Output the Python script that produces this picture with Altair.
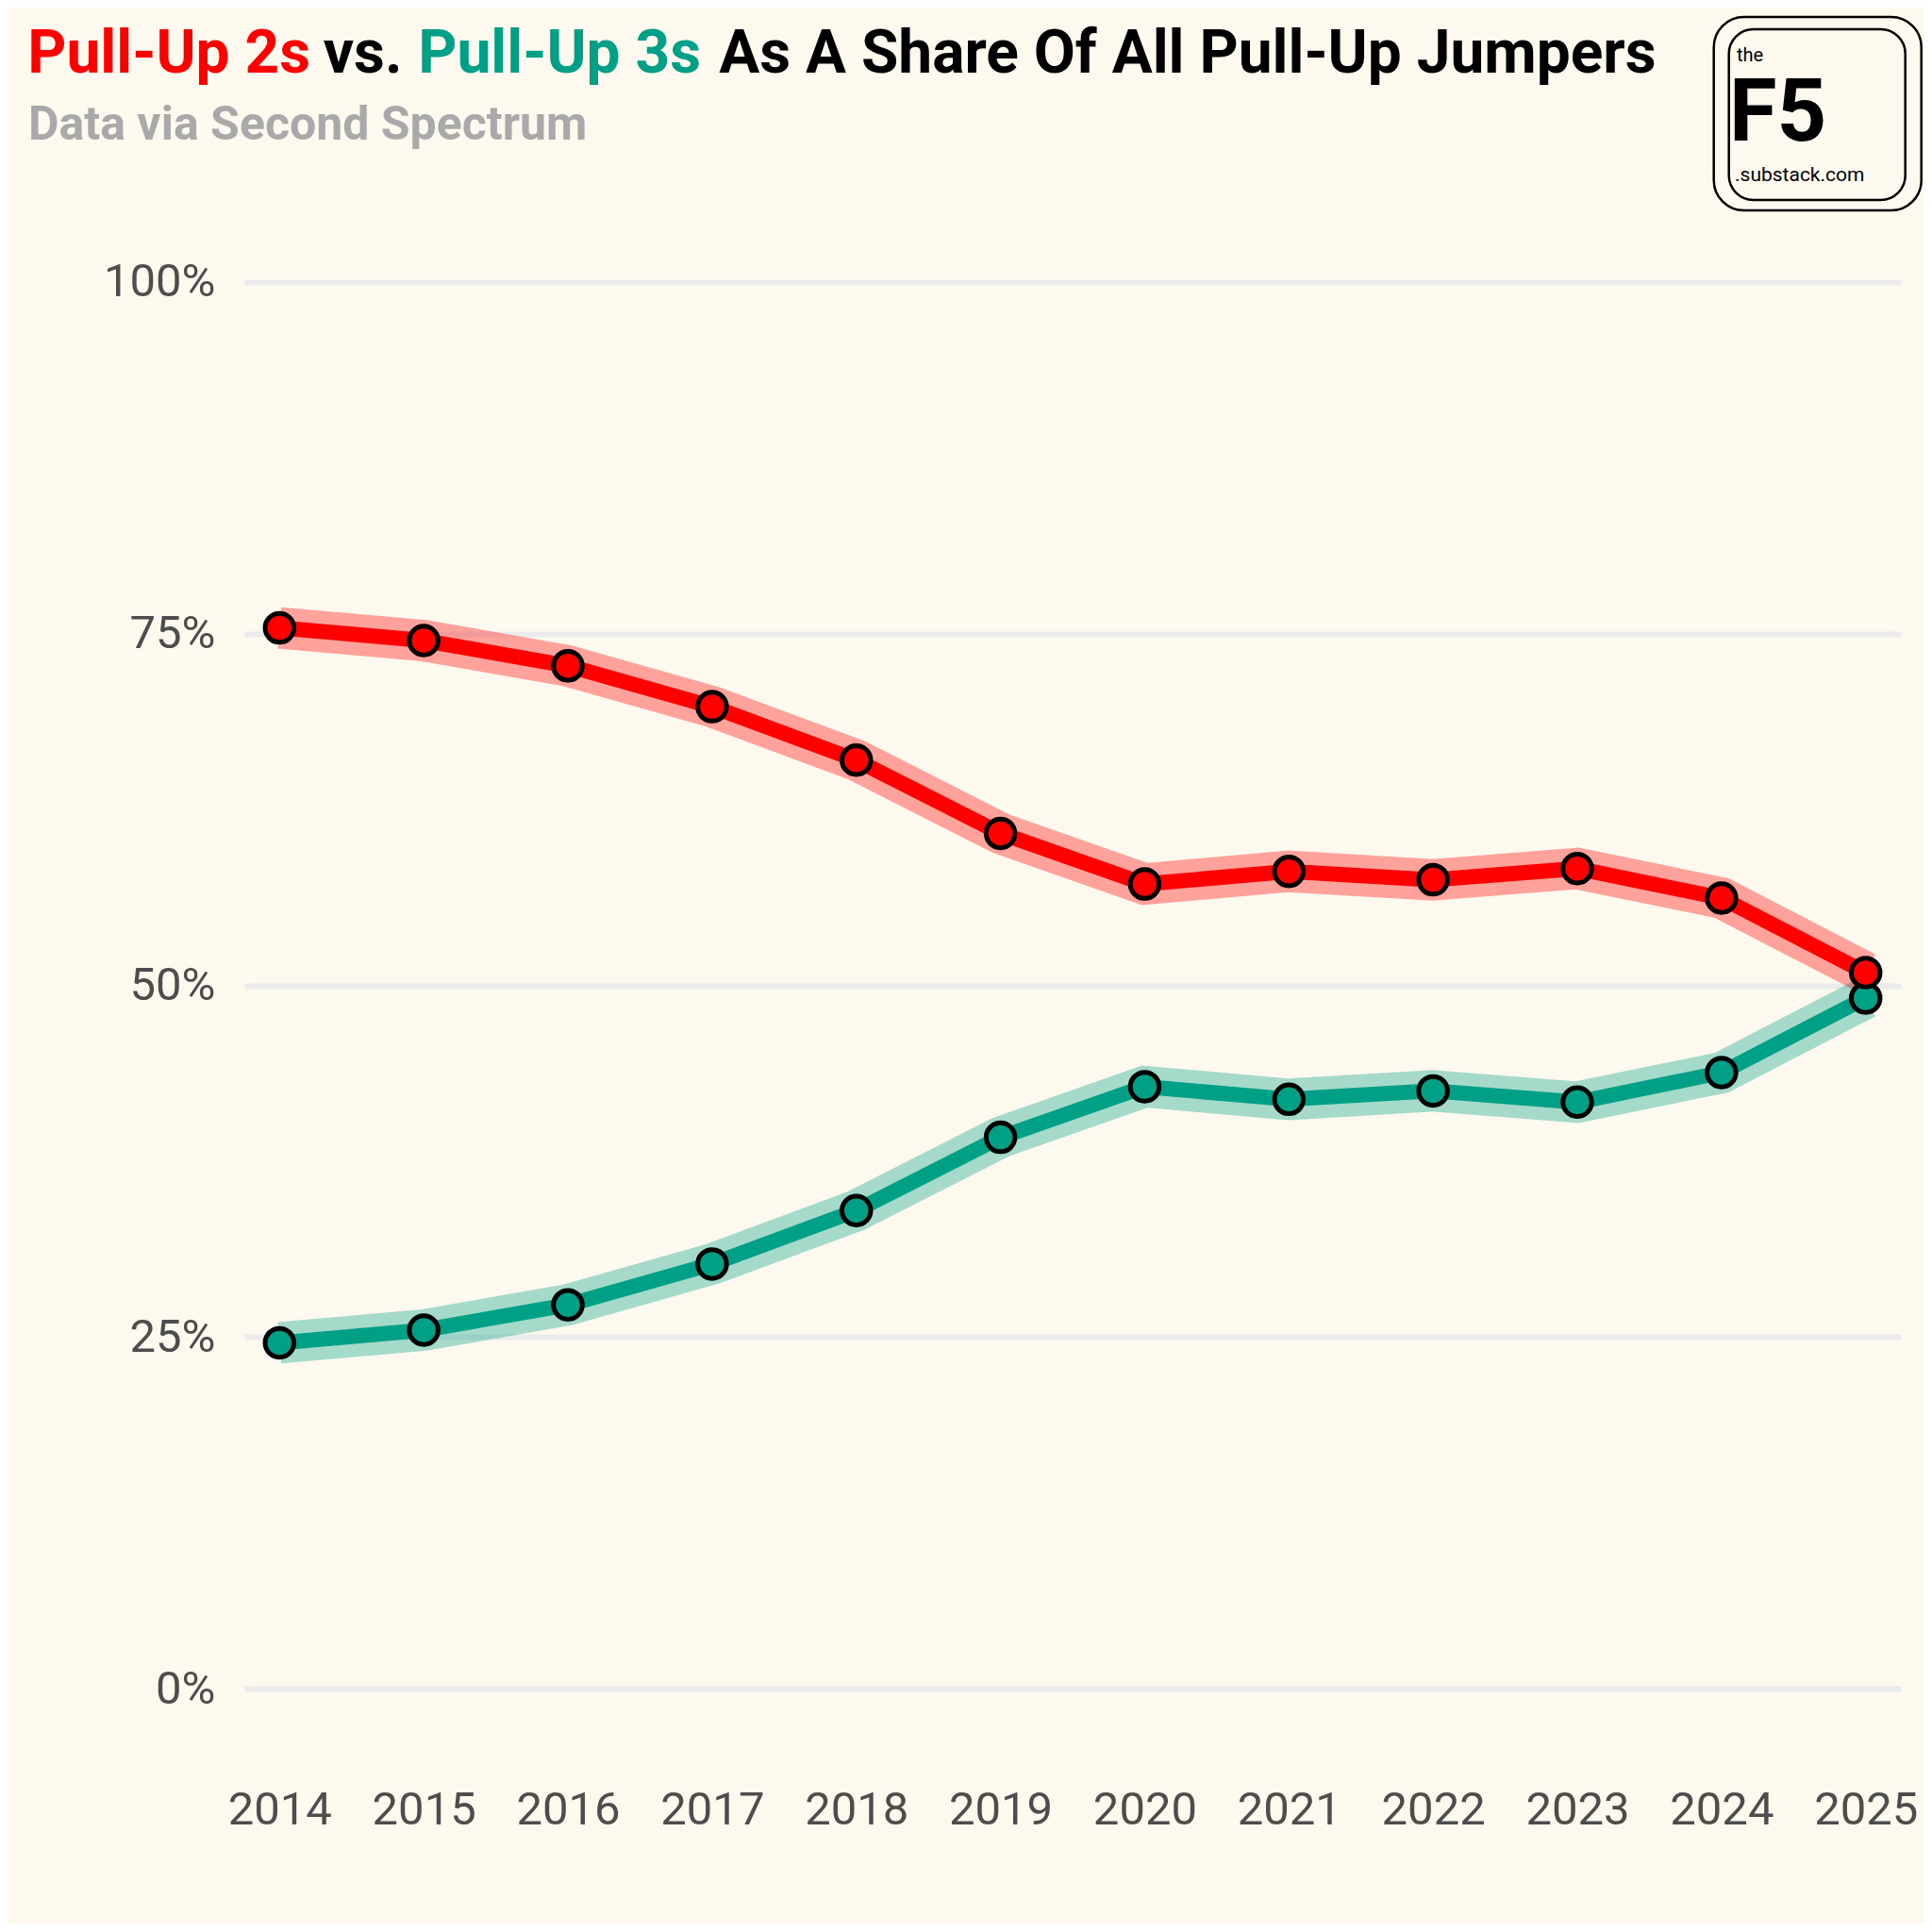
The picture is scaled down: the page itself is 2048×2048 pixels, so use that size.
import altair as alt
import pandas as pd

# ---- data ----
years = list(range(2014, 2026))
pullup_2s = [75.4, 74.5, 72.7, 69.8, 66.0, 60.8, 57.2, 58.1, 57.5, 58.3, 56.2, 50.9]
pullup_3s = [24.6, 25.5, 27.3, 30.2, 34.0, 39.2, 42.8, 41.9, 42.5, 41.7, 43.8, 49.1]
series_names = ["Pull-Up 2s", "Pull-Up 3s"]
series_colors = ["#FF0000", "#00A087"]
y_ticks = [0, 25, 50, 75, 100]

title_red = "Pull-Up 2s"
title_mid = "vs."
title_teal = "Pull-Up 3s"
title_rest = "As A Share Of All Pull-Up Jumpers"
subtitle = "Data via Second Spectrum"

BG = "#FDF9EE"
FONT = "Roboto"
W, H = 1756, 1641

df = pd.DataFrame({
    "year": years * 2,
    "value": pullup_2s + pullup_3s,
    "series": [series_names[0]] * len(years) + [series_names[1]] * len(years),
})

xs = alt.Scale(domain=[2013.756, 2025.244], nice=False, zero=False)
ys = alt.Scale(domain=[-5, 105], nice=False, zero=False)
cs = alt.Scale(domain=series_names, range=series_colors)

x_enc = alt.X("year:Q", scale=xs, axis=alt.Axis(
    values=years, format="d", grid=False, domain=False, ticks=False, tickSize=0,
    labelFontSize=49, labelColor="#4D4D4D", labelFont=FONT, labelPadding=29,
    title=None, labelFlush=False, labelOverlap=False))
y_enc = alt.Y("value:Q", scale=ys, axis=alt.Axis(
    values=y_ticks, labelExpr="datum.value + '%'", grid=True, gridColor="#EBEBEB",
    gridWidth=6, domain=False, ticks=False, tickSize=0, labelFontSize=49,
    labelColor="#4D4D4D", labelFont=FONT, labelPadding=31, title=None))

base = alt.Chart(df)


def sub(name):
    return base.transform_filter(alt.datum.series == name)


layers = []
# halos
for name in series_names[::-1]:
    layers.append(sub(name).mark_line(strokeWidth=44, opacity=0.35).encode(
        x=x_enc, y=y_enc, color=alt.Color("series:N", scale=cs, legend=None)))
# main lines
for name in series_names[::-1]:
    layers.append(sub(name).mark_line(strokeWidth=16).encode(
        x=x_enc, y=y_enc, color=alt.Color("series:N", scale=cs, legend=None)))
# points
for name in series_names[::-1]:
    layers.append(sub(name).mark_point(shape="circle", filled=True, size=930,
                                       stroke="black", strokeWidth=5, opacity=1,
                                       strokeOpacity=1, fillOpacity=1).encode(
        x=x_enc, y=y_enc, fill=alt.Fill("series:N", scale=cs, legend=None)))

one = alt.Chart(pd.DataFrame({"k": [0]}))


def txt(s, x, y, size, color, weight="normal"):
    return one.mark_text(text=s, align="left", baseline="alphabetic", font=FONT,
                         fontSize=size, fontWeight=weight, color=color).encode(
        x=alt.value(x), y=alt.value(y))


TY = -147
layers.append(txt(title_red, -229.8, TY, 64, series_colors[0], "bold"))
layers.append(txt(title_mid, 83.7, TY, 64, "#000000", "bold"))
layers.append(txt(title_teal, 184.2, TY, 64, series_colors[1], "bold"))
layers.append(txt(title_rest, 503.2, TY, 64, "#000000", "bold"))
layers.append(txt(subtitle, -229, -76, 50, "#A9A9A9", "bold"))

# logo
def box(x1, x2, y1, y2, r):
    return one.mark_rect(fillOpacity=0, stroke="black", strokeWidth=2.5,
                         cornerRadius=r).encode(
        x=alt.value(x1), x2=alt.value(x2), y=alt.value(y1), y2=alt.value(y2))

layers.append(box(1557.7, 1777.7, -206, -1, 32))
layers.append(box(1573.7, 1760.7, -193, -12, 26))
layers.append(txt("the", 1582, -159, 20, "#000000"))
layers.append(txt("F5", 1574, -75, 92, "#000000", "bold"))
layers.append(txt(".substack.com", 1580, -32, 21, "#000000"))

chart = alt.layer(*layers).properties(
    width=W, height=H,
    autosize=alt.AutoSizeParams(type="none"),
    padding={"left": 251, "top": 216, "right": 25, "bottom": 175},
    background=BG,
).configure_view(stroke=None)

chart.save("out.html", embed_options={"renderer": "svg", "actions": False})
